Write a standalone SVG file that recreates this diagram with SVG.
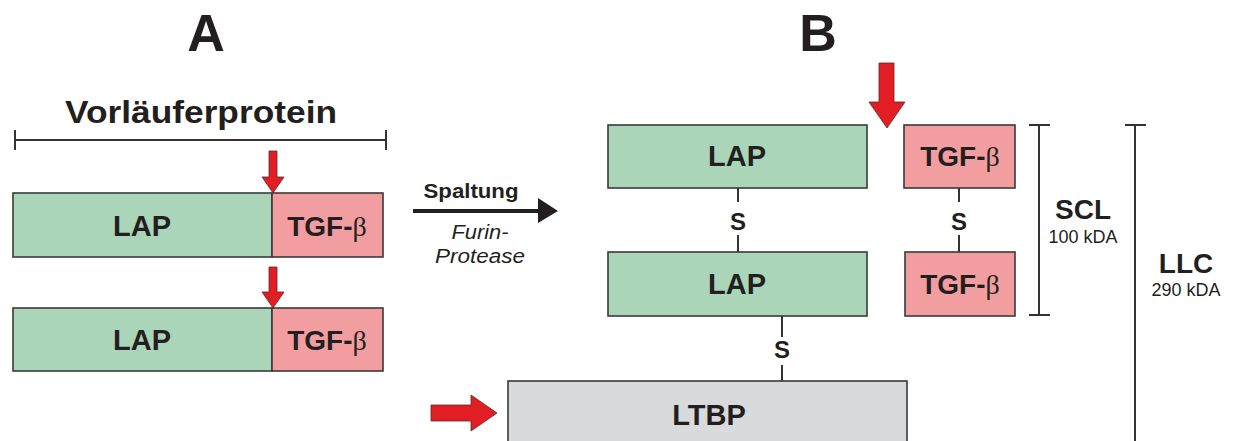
<svg xmlns="http://www.w3.org/2000/svg" width="1240" height="441" viewBox="0 0 1240 441">
  <style>
    .box { stroke: #3a3a3a; stroke-width: 1.6; }
    .lap { fill: #aad5b9; }
    .tgf { fill: #f29d9f; }
    .ltbp { fill: #d9dadb; }
    .lbl { font-family: "Liberation Sans", Arial, sans-serif; font-weight: bold; fill: #231f20; }
    .greek { font-family: "Liberation Serif", "Times New Roman", serif; font-weight: normal; }
    .thin { font-family: "Liberation Sans", Arial, sans-serif; fill: #231f20; }
    .ln { stroke: #333333; stroke-width: 2; fill: none; }
    .cut { fill: #e21d24; stroke: #5a2a2a; stroke-width: 0.8; stroke-linejoin: miter; }
  </style>

  <!-- panel titles -->
  <text class="lbl" x="206" y="51" font-size="52" text-anchor="middle">A</text>
  <text class="lbl" x="818" y="51" font-size="52" text-anchor="middle">B</text>

  <!-- precursor length bracket -->
  <g id="precursor-span">
    <text class="lbl" x="201" y="123" font-size="32" text-anchor="middle" textLength="272" lengthAdjust="spacingAndGlyphs">Vorläuferprotein</text>
    <path class="ln" d="M15 140 H386 M15 130 V150 M386 130 V150"/>
  </g>

  <!-- precursor chain 1 -->
  <g id="precursor-1">
    <rect class="box lap" x="13" y="193" width="259" height="64"/>
    <rect class="box tgf" x="272" y="193" width="111" height="64"/>
    <text class="lbl" x="142" y="236" font-size="29" text-anchor="middle">LAP</text>
    <text class="lbl" x="327" y="236" font-size="28" text-anchor="middle">TGF-<tspan class="greek">β</tspan></text>
    <path class="cut" d="M269 151 H277 V177 H284 L273 193 L262 177 H269 Z"/>
  </g>

  <!-- precursor chain 2 -->
  <g id="precursor-2">
    <rect class="box lap" x="13" y="308" width="259" height="63"/>
    <rect class="box tgf" x="272" y="308" width="111" height="63"/>
    <text class="lbl" x="142" y="350" font-size="29" text-anchor="middle">LAP</text>
    <text class="lbl" x="327" y="350" font-size="28" text-anchor="middle">TGF-<tspan class="greek">β</tspan></text>
    <path class="cut" d="M269 267 H277 V292 H284 L273 308 L262 292 H269 Z"/>
  </g>

  <!-- cleavage step -->
  <g id="cleavage">
    <text class="lbl" x="471" y="198" font-size="21" text-anchor="middle" textLength="95" lengthAdjust="spacingAndGlyphs">Spaltung</text>
    <path d="M413 209 H538 V198 L558 211 L538 223 V213 H413 Z" fill="#231f20"/>
    <text class="thin" x="480" y="239" font-size="20" font-style="italic" text-anchor="middle" textLength="57" lengthAdjust="spacingAndGlyphs">Furin-</text>
    <text class="thin" x="480" y="263" font-size="20" font-style="italic" text-anchor="middle" textLength="90" lengthAdjust="spacingAndGlyphs">Protease</text>
  </g>

  <!-- disulfide links -->
  <g id="connectors">
    <path class="ln" d="M738 188 V202 M738 235 V252"/>
    <text class="lbl" x="738" y="230" font-size="24" text-anchor="middle">S</text>
    <path class="ln" d="M959 188 V202 M959 235 V252"/>
    <text class="lbl" x="959" y="230" font-size="24" text-anchor="middle">S</text>
    <path class="ln" d="M782 316 V337 M782 365 V381"/>
    <text class="lbl" x="782" y="358" font-size="24" text-anchor="middle">S</text>
  </g>

  <!-- LAP dimer -->
  <g id="lap-upper">
    <rect class="box lap" x="608" y="125" width="259" height="63"/>
    <text class="lbl" x="737" y="166" font-size="29" text-anchor="middle">LAP</text>
  </g>
  <g id="lap-lower">
    <rect class="box lap" x="608" y="252" width="259" height="64"/>
    <text class="lbl" x="737" y="294" font-size="29" text-anchor="middle">LAP</text>
  </g>

  <!-- TGF-beta dimer -->
  <g id="tgf-upper">
    <rect class="box tgf" x="904" y="125" width="111" height="63"/>
    <text class="lbl" x="960" y="166" font-size="28" text-anchor="middle">TGF-<tspan class="greek">β</tspan></text>
  </g>
  <g id="tgf-lower">
    <rect class="box tgf" x="905" y="252" width="110" height="64"/>
    <text class="lbl" x="960" y="294" font-size="28" text-anchor="middle">TGF-<tspan class="greek">β</tspan></text>
  </g>

  <!-- cleavage marker between LAP and TGF-beta -->
  <path id="cut-b" class="cut" d="M879 63 H894 V102 H905 L887 128 L869 102 H879 Z"/>

  <!-- LTBP -->
  <g id="ltbp">
    <rect class="box ltbp" x="508" y="381" width="399" height="70"/>
    <text class="lbl" x="709" y="425" font-size="29" text-anchor="middle">LTBP</text>
    <path class="cut" d="M431 405 H471 V395 L497 413 L471 431 V421 H431 Z"/>
  </g>

  <!-- complex size brackets -->
  <g id="scl">
    <path class="ln" d="M1039 125 V315 M1029 125 H1050 M1029 315 H1050"/>
    <text class="lbl" x="1083" y="219" font-size="28" text-anchor="middle">SCL</text>
    <text class="thin" x="1083" y="243" font-size="18" text-anchor="middle">100 kDA</text>
  </g>
  <g id="llc">
    <path class="ln" d="M1135 125 V441 M1125 125 H1146"/>
    <text class="lbl" x="1186" y="273" font-size="28" text-anchor="middle">LLC</text>
    <text class="thin" x="1186" y="296" font-size="18" text-anchor="middle">290 kDA</text>
  </g>
</svg>
